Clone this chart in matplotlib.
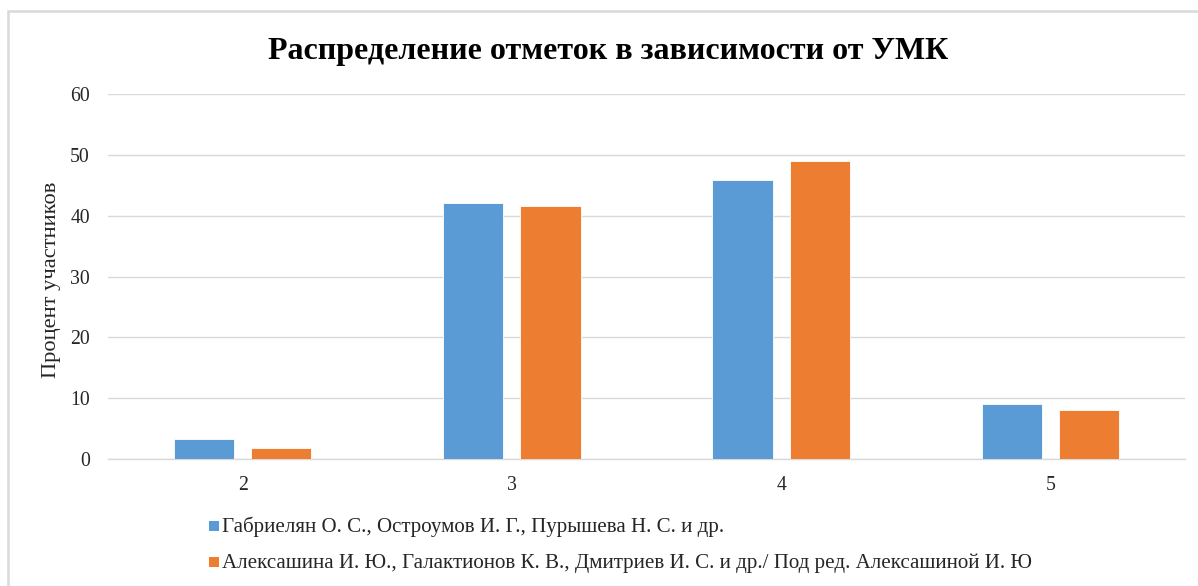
import matplotlib
matplotlib.use("Agg")
import matplotlib.pyplot as plt
from matplotlib.patches import Rectangle
import numpy as np

categories = ["2", "3", "4", "5"]
series_names = [
    "Габриелян О. С., Остроумов И. Г., Пурышева Н. С. и др.",
    "Алексашина И. Ю., Галактионов К. В., Дмитриев И. С. и др./ Под ред. Алексашиной И. Ю",
]
gabrielyan = [3.3, 42.1, 45.9, 9.0]
aleksashina = [1.8, 41.6, 49.0, 8.0]
colors = ["#5B9BD5", "#ED7D31"]

plt.rcParams['font.family'] = ['Liberation Serif', 'DejaVu Serif']

W, H = 1198, 586
fig = plt.figure(figsize=(W/100, H/100), dpi=100)

def fx(px): return px / W
def fy(py): return 1 - py / H

# chart frame
fig.patches.append(Rectangle((fx(8), fy(600)), fx(1300) - fx(8), fy(11) - fy(600),
                             transform=fig.transFigure, fill=False,
                             edgecolor="#D9D9D9", linewidth=1.8, zorder=0))

ax = fig.add_axes([fx(108), fy(459), fx(1185) - fx(108), fy(94) - fy(459)])
x = np.arange(len(categories))
w = 0.223
off = 0.1435
ax.bar(x - off, gabrielyan, w, color=colors[0], edgecolor="white", linewidth=0.6, zorder=3, label=series_names[0])
ax.bar(x + off, aleksashina, w, color=colors[1], edgecolor="white", linewidth=0.6, zorder=3, label=series_names[1])

ax.set_xlim(-0.5, 3.5)
ax.set_ylim(0, 60)
ax.set_yticks(range(0, 61, 10))
ax.set_xticks(x)
ax.set_xticklabels(categories)
ax.yaxis.grid(True, color="#D9D9D9", linewidth=1.0, zorder=0)
for s in ["top", "right", "left"]:
    ax.spines[s].set_visible(False)
ax.spines["bottom"].set_color("#D9D9D9")
ax.spines["bottom"].set_linewidth(1.0)
ax.tick_params(axis="both", length=0, labelsize=14.2)
ax.tick_params(axis="y", pad=13)
ax.tick_params(axis="x", pad=12.5)
for t in ax.get_xticklabels() + ax.get_yticklabels():
    t.set_color("#262626")

fig.text(fx(52), fy(280), "Процент участников", rotation=90, ha="center", va="center",
         fontsize=16.2, color="#262626")

fig.text(fx(608), fy(59.5), "Распределение отметок в зависимости от УМК", ha="center", va="baseline",
         fontsize=23, fontweight="bold", color="black")

# legend
ly = [527, 563]
for i in range(2):
    fig.patches.append(Rectangle((fx(209), fy(ly[i] + 4)), fx(10), fy(0) - fy(10),
                                 transform=fig.transFigure, facecolor=colors[i], edgecolor="none"))
    fig.text(fx(222), fy(ly[i]), series_names[i], ha="left", va="center", fontsize=15.1, color="#262626")

fig.savefig("out.png", dpi=100)
